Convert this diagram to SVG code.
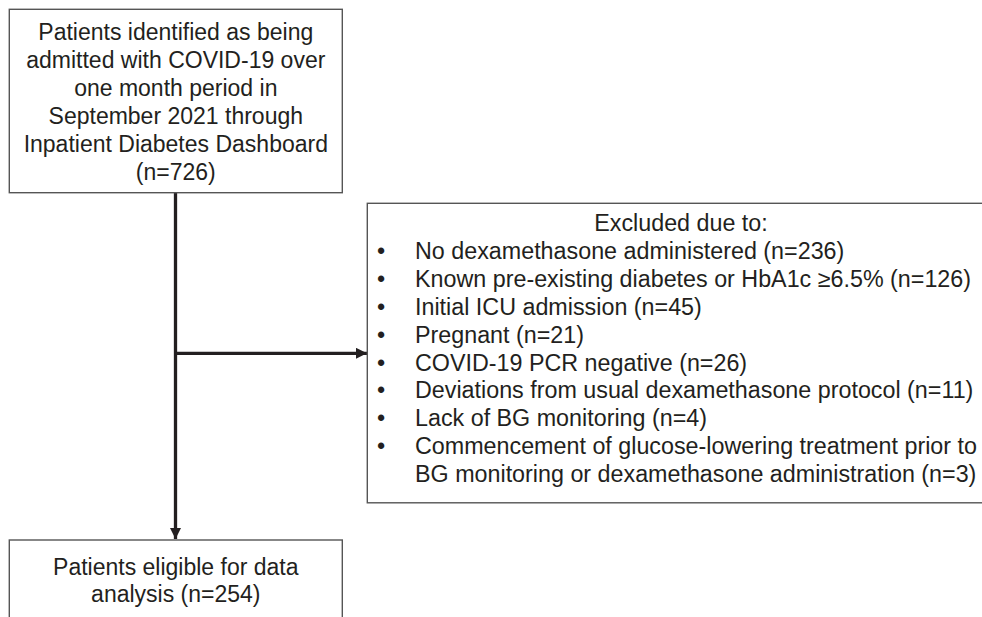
<svg xmlns="http://www.w3.org/2000/svg" width="982" height="617" viewBox="0 0 982 617">
<defs>
<marker id="ah" viewBox="0 0 10 10" refX="10" refY="5" markerWidth="3.5" markerHeight="3.4" orient="auto" markerUnits="strokeWidth">
<path d="M0,0 L10,5 L0,10 Z" fill="#231f20"/>
</marker>
<style>
.box{fill:#fff;stroke:#555;stroke-width:1.4}
.t{font-family:"Liberation Sans",Arial,sans-serif;font-size:23px;fill:#231f20}
.r{font-size:23.3px}
.c{text-anchor:middle}
.conn{stroke:#231f20;stroke-width:3.3;fill:none}
</style>
</defs>
<rect width="982" height="617" fill="#fff"/>
<g id="connectors">
<line class="conn" x1="175.5" y1="193" x2="175.5" y2="539" marker-end="url(#ah)"/>
<line class="conn" x1="175.5" y1="353.3" x2="367" y2="353.3" marker-end="url(#ah)"/>
</g>
<g id="start">
<rect class="box" x="9.3" y="9.3" width="333" height="183.4"/>
<text class="t c" x="175.8" y="39.5">Patients identified as being</text>
<text class="t c" x="175.8" y="67.6">admitted with COVID-19 over</text>
<text class="t c" x="175.8" y="95.7">one month period in</text>
<text class="t c" x="175.8" y="123.8">September 2021 through</text>
<text class="t c" x="175.8" y="151.9">Inpatient Diabetes Dashboard</text>
<text class="t c" x="175.8" y="180">(n=726)</text>
</g>
<g id="excluded">
<rect class="box" x="367.3" y="203.3" width="640" height="299.5"/>
<text class="t r c" x="681" y="231">Excluded due to:</text>
<g class="t r">
<text x="377" y="258.9">•</text><text x="415" y="258.9">No dexamethasone administered (n=236)</text>
<text x="377" y="286.8">•</text><text x="415" y="286.8">Known pre-existing diabetes or HbA1c ≥6.5% (n=126)</text>
<text x="377" y="314.7">•</text><text x="415" y="314.7">Initial ICU admission (n=45)</text>
<text x="377" y="342.6">•</text><text x="415" y="342.6">Pregnant (n=21)</text>
<text x="377" y="370.5">•</text><text x="415" y="370.5">COVID-19 PCR negative (n=26)</text>
<text x="377" y="398.4">•</text><text x="415" y="398.4">Deviations from usual dexamethasone protocol (n=11)</text>
<text x="377" y="426.3">•</text><text x="415" y="426.3">Lack of BG monitoring (n=4)</text>
<text x="377" y="454.2">•</text><text x="415" y="454.2">Commencement of glucose-lowering treatment prior to</text>
<text x="415" y="482.1">BG monitoring or dexamethasone administration (n=3)</text>
</g>
</g>
<g id="eligible">
<rect class="box" x="9.3" y="540" width="333" height="100"/>
<text class="t c" x="175.8" y="574.5">Patients eligible for data</text>
<text class="t c" x="175.8" y="602">analysis (n=254)</text>
</g>
</svg>
